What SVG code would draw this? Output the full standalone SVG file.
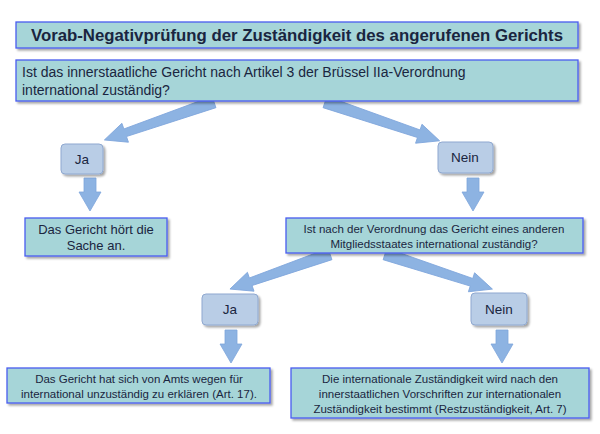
<svg xmlns="http://www.w3.org/2000/svg" width="600" height="434" viewBox="0 0 600 434">
<defs>
<style>
.box{fill:#a6d5d8;stroke:#4a5cf0;stroke-width:1.3}
.opt{fill:#b9cde6;stroke:#8fa8d0;stroke-width:1}
.arr{fill:#8db3e2;stroke:#7fa6dc;stroke-width:0.8}
text{font-family:"Liberation Sans",Arial,sans-serif;fill:#1a2540}
.t{font-size:13.5px;text-anchor:middle}
.h{font-size:13px;text-anchor:middle}
.s{font-size:11.5px;text-anchor:middle}
</style>
<filter id="sh" x="-5%" y="-10%" width="115%" height="130%"><feDropShadow dx="2" dy="2" stdDeviation="1.2" flood-color="#000" flood-opacity="0.35"/></filter>
</defs>
<g id="connectors">
<polygon class="arr" transform="translate(214,102) rotate(160.9)" points="0,-6 94,-4 94,-10 116,0 94,10 94,4 0,6"/>
<polygon class="arr" transform="translate(325,102) rotate(18.7)" points="0,-6 99,-4 99,-10 121,0 99,10 99,4 0,6"/>
<polygon class="arr" transform="translate(330,254) rotate(160.7)" points="0,-6 84,-4 84,-10 106,0 84,10 84,4 0,6"/>
<polygon class="arr" transform="translate(385,254) rotate(18.1)" points="0,-6 91,-4 91,-10 113,0 91,10 91,4 0,6"/>
<polygon class="arr" points="84,178 96,178 96,192 101,192 90,211 79,192 84,192"/>
<polygon class="arr" points="467,178 479,178 479,192 484,192 473,211 462,192 467,192"/>
<polygon class="arr" points="225,330 237,330 237,344 242,344 231,363 220,344 225,344"/>
<polygon class="arr" points="496,330 508,330 508,344 513,344 502,363 491,344 496,344"/>
</g>
<g id="title"><rect class="box" x="16" y="22" width="562" height="26" filter="url(#sh)"/>
<text x="297" y="41" font-size="16.8" font-weight="bold" text-anchor="middle" fill="#1a2550">Vorab-Negativprüfung der Zuständigkeit des angerufenen Gerichts</text></g>
<g id="q1"><rect class="box" x="16" y="60" width="562" height="41" filter="url(#sh)"/>
<text x="22" y="77" font-size="14">Ist das innerstaatliche Gericht nach Artikel 3 der Brüssel IIa-Verordnung</text>
<text x="22" y="95" font-size="14">international zuständig?</text></g>
<g id="ja1"><rect class="opt" x="61" y="144" width="42" height="30" rx="4" filter="url(#sh)"/><text class="t" x="82" y="164">Ja</text></g>
<g id="nein1"><rect class="opt" x="438" y="142" width="55" height="31" rx="4" filter="url(#sh)"/><text class="t" x="465" y="162">Nein</text></g>
<g id="hoert"><rect class="box" x="25" y="218" width="142" height="38" filter="url(#sh)"/>
<text class="h" x="96" y="234">Das Gericht hört die</text><text class="h" x="96" y="250">Sache an.</text></g>
<g id="q2"><rect class="box" x="286" y="218" width="297" height="35" filter="url(#sh)"/>
<text class="s" x="434" y="233">Ist nach der Verordnung das Gericht eines anderen</text><text class="s" x="434" y="248">Mitgliedsstaates international zuständig?</text></g>
<g id="ja2"><rect class="opt" x="202" y="294" width="56" height="31" rx="4" filter="url(#sh)"/><text class="t" x="230" y="314">Ja</text></g>
<g id="nein2"><rect class="opt" x="471" y="293" width="56" height="32" rx="4" filter="url(#sh)"/><text class="t" x="499" y="314">Nein</text></g>
<g id="unzust"><rect class="box" x="7" y="368" width="263" height="35" filter="url(#sh)"/>
<text class="s" x="139" y="383">Das Gericht hat sich von Amts wegen für</text><text class="s" x="139" y="398">international unzuständig zu erklären (Art. 17).</text></g>
<g id="rest"><rect class="box" x="291" y="368" width="298" height="50" filter="url(#sh)"/>
<text class="s" x="440" y="383">Die internationale Zuständigkeit wird nach den</text><text class="s" x="440" y="398">innerstaatlichen Vorschriften zur internationalen</text><text class="s" x="440" y="413">Zuständigkeit bestimmt (Restzuständigkeit, Art. 7)</text></g>
</svg>
